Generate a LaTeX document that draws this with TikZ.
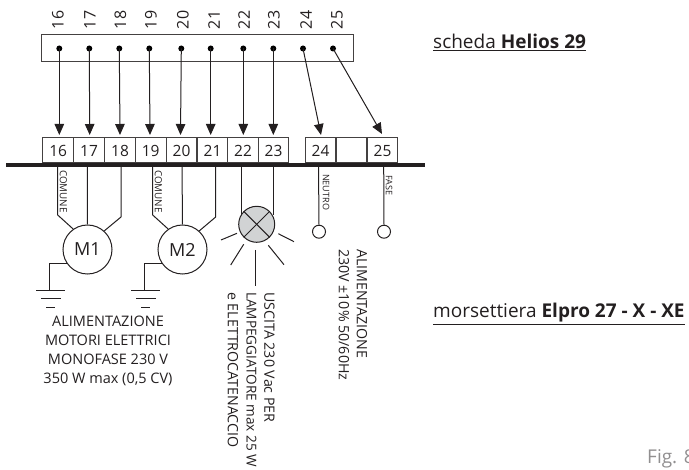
\documentclass[tikz,border=0pt]{standalone}
\usepackage{fontspec}
\setmainfont{Open Sans}
\usetikzlibrary{arrows.meta}
\definecolor{ink}{HTML}{231F20}
\definecolor{lampfill}{HTML}{D1D3D4}
\newcommand{\fs}[1]{\fontsize{#1}{#1}\selectfont}
\tikzset{
 wire/.style={draw=ink,line width=1pt,line join=miter},
 frame/.style={draw=ink!85,line width=1pt},
 arrowline/.style={draw=ink,line width=1pt,-{Triangle[length=11pt,width=9.5pt]}},
 dot/.style={circle,fill=black,inner sep=0pt,minimum size=6pt},
 term/.style={draw=ink!85,line width=1pt,rectangle,inner sep=0pt,minimum width=30.8pt,minimum height=25pt,text=ink,font=\fs{15.5}},
 toplab/.style={rotate=90,text=ink,font=\fs{16},inner sep=0pt},
 tiny/.style={rotate=-90,anchor=west,text=ink,font=\fs{9},inner sep=0pt},
 vert/.style={rotate=-90,anchor=west,text=ink,font=\fs{14.2},inner sep=0pt},
 body/.style={text=ink,font=\fs{14.5},inner sep=0pt},
 side/.style={anchor=west,text=ink,font=\fs{19},inner sep=0pt},
 motor/.style={circle,draw=ink,line width=1pt,minimum size=49pt,inner sep=0pt,font=\fs{18},text=ink},
 term2/.style={circle,draw=ink,line width=1pt,minimum size=13pt,inner sep=0pt},
 lamp/.style={circle,draw=ink,fill=lampfill,line width=1pt,minimum size=36pt,inner sep=0pt},
}
\begin{document}
\begin{tikzpicture}[x=1pt,y=-1pt]
\useasboundingbox (0,0) rectangle (689,470);
% top board
\node[frame,rectangle,inner sep=0pt,minimum width=312pt,minimum height=27pt] (board) at (197,48.5) {};
\foreach \n/\x/\lx in {16/59.3/58,17/89.3/90,18/119.3/120.5,19/149.3/151,20/181.3/183,21/210.7/214,22/243.3/244,23/273.3/274,24/303/306,25/333/337}{
  \node[dot] (d\n) at (\x,48.5) {};
  \node[toplab] (l\n) at (\lx,20) {\n};
}
% terminals
\foreach \n/\x in {16/58.2,17/89,18/120,19/150.7,20/181.5,21/212.5,22/243,23/273.5,24/320.5,25/382.5}{
  \node[term] (t\n) at (\x,150.5) {\n};
}
\node[term] (tb) at (351.5,150.5) {};
% bus
\path[fill=ink] (6,163.5) rectangle (425,167);
% arrows
\foreach \n/\x in {16/59.3,17/89.7,18/120,19/150,20/180.5,21/210.7,22/243.3,23/273.3}{
  \coordinate (a\n) at (\x,135);
  \draw[arrowline] (d\n.center) -- (a\n);
}
\coordinate (a24) at (321,135);
\coordinate (a25) at (382,134);
\draw[arrowline] (d24.center) -- (a24);
\draw[arrowline] (d25.center) -- (a25);
% motors
\node[motor] (m1) at (87.5,249.5) {M1};
\node[motor] (m2) at (182.5,249.5) {M2};
\foreach \m/\dx/\a/\b/\c in {m1/0/57.7/87.3/121,m2/95/152.7/182/215.7}{
  \coordinate (p1\m) at (\a,165);
  \coordinate (p2\m) at (\b,165);
  \coordinate (p3\m) at (\c,165);
  \draw[wire] (p1\m) -- (\a,215) -- (\m.125);
  \draw[wire] (p2\m) -- (\m.north);
  \draw[wire] (p3\m) -- (\c,217) -- (\m.48);
  \draw[wire] (\m.215) -- ++(-18,0) |- +(0,26.5);
  \draw[wire] ({36+\dx},290.7) -- ({65+\dx},290.7);
  \draw[wire] ({41+\dx},298.7) -- ({61+\dx},298.7);
  \draw[wire] ({46+\dx},308) -- ({55+\dx},308);
}
\node[tiny,font=\fs{9.8}] (c1) at (63.5,170) {COMUNE};
\node[tiny,font=\fs{9.8}] (c2) at (158.5,170) {COMUNE};
% lamp
\node[lamp] (lp) at (256.7,224.3) {};
\draw[wire] (lp.45) -- (lp.225);
\draw[wire] (lp.135) -- (lp.315);
\coordinate (w22) at (241.7,165);
\coordinate (w23) at (273,165);
\draw[wire] (w22) -- (w22 |- lp.150);
\draw[wire] (w23) -- (w23 |- lp.30);
\draw[wire] (221,240) -- (237,233.3);
\draw[wire] (230.7,265) -- (243.7,244.3);
\draw[wire] (255,250) -- (255,285.7);
\draw[wire] (268.3,245.3) -- (284,264.7);
\draw[wire] (278.3,233.7) -- (294,241.7);
% neutro / fase
\node[term2] (nn) at (319,231.7) {};
\node[term2] (ff) at (384,231.7) {};
\coordinate (w24) at (318.5,165);
\coordinate (w25) at (383.7,165);
\draw[wire] (w24) -- (nn.north);
\draw[wire] (w25) -- (ff.north);
\node[tiny] (nt) at (326,174) {NEUTRO};
\node[tiny] (ft) at (389,175) {FASE};
% texts
\node[body,align=center] (mot) at (108,351) {ALIMENTAZIONE\\[4.6pt]MOTORI ELETTRICI\\[4.6pt]MONOFASE 230 V\\[4.6pt]350 W max (0,5 CV)};
\node[vert] (u1) at (269.5,292) {USCITA 230 Vac PER};
\node[vert,font=\fs{13.6}] (u2) at (251.5,292) {LAMPEGGIATORE max 25 W};
\node[vert] (u3) at (233,292) {e ELETTROCATENACCIO};
\node[vert] (a1) at (362,249) {ALIMENTAZIONE};
\node[vert] (a2) at (344,249) {230V ±10\% 50/60Hz};
\node[side,anchor=base west] (s1) at (433,49) {\underline{scheda \textbf{Helios 29}}};
\node[side,anchor=base west] (s2) at (433,318) {\underline{morsettiera \textbf{Elpro 27 - X - XE}}};
\node[anchor=base west,text=ink!50,font=\fs{19},inner sep=0pt] (fg) at (647,464) {Fig. 8};
\end{tikzpicture}
\end{document}
